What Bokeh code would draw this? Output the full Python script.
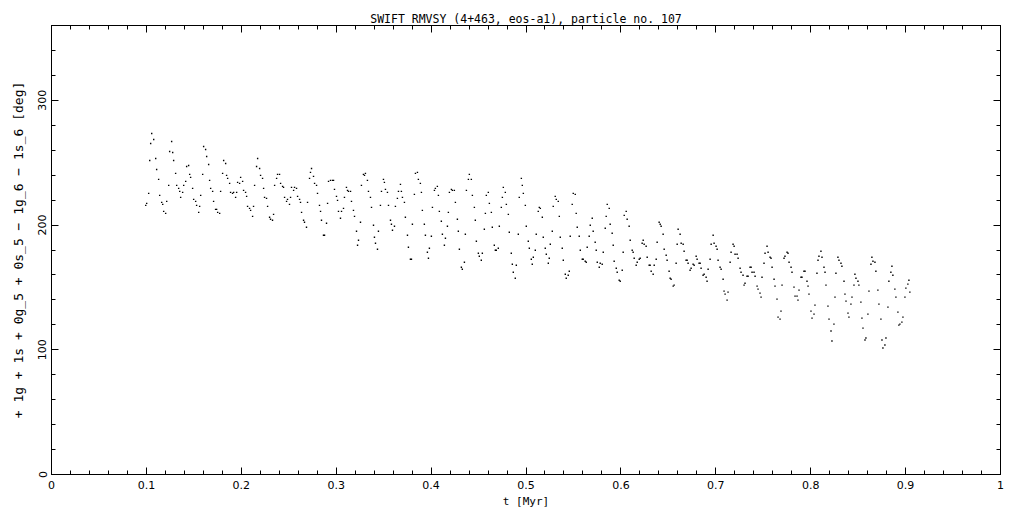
from bokeh.plotting import figure
from bokeh.models import LinearAxis, SingleIntervalTicker, NumeralTickFormatter, Range1d
from bokeh.embed import file_html
from bokeh.resources import INLINE

TITLE = "SWIFT_RMVSY (4+463, eos-a1), particle no. 107"
X_LABEL = "t [Myr]"
Y_LABEL = "+ 1g + 1s + 0g_5 + 0s_5 \u2212 1g_6 \u2212 1s_6 [deg]"
X_MAJOR = 0.1
Y_MAJOR = 100

t = [
0.0993,0.1003,0.1024,0.1035,0.1045,0.1056,0.1077,0.1098,0.1108,0.1129,0.1140,0.1161,0.1172,0.1182,0.1203,0.1214,
0.1235,0.1245,0.1266,0.1277,0.1287,0.1308,0.1319,0.1340,0.1351,0.1361,0.1382,0.1393,0.1414,0.1424,0.1445,0.1456,
0.1466,0.1487,0.1498,0.1519,0.1529,0.1551,0.1561,0.1572,0.1593,0.1603,0.1624,0.1635,0.1656,0.1666,
0.1677,0.1698,0.1708,0.1729,0.1740,0.1751,0.1772,0.1782,0.1803,0.1814,0.1835,0.1845,0.1856,0.1877,0.1887,0.1908,
0.1919,0.1940,0.1951,0.1961,0.1982,0.1993,0.2014,0.2024,0.2045,0.2056,0.2066,0.2087,0.2098,0.2119,0.2129,0.2140,
0.2161,0.2172,0.2193,0.2203,0.2224,0.2235,0.2245,0.2266,0.2277,0.2298,0.2308,0.2329,0.2340,0.2351,0.2372,0.2382,0.2403,
0.2414,0.2435,0.2445,0.2456,0.2477,0.2487,0.2508,0.2519,0.2529,0.2551,0.2561,0.2582,0.2593,0.2614,0.2624,0.2635,
0.2656,0.2666,0.2687,0.2698,0.2719,0.2729,0.2740,0.2761,0.2772,0.2793,0.2803,0.2824,0.2835,0.2845,0.2866,0.2877,
0.2898,0.2909,0.2919,0.2940,0.2961,0.2972,0.2982,0.3003,0.3014,0.3024,0.3045,0.3056,0.3077,0.3087,0.3108,0.3119,0.3129,
0.3151,0.3161,0.3182,0.3193,0.3214,0.3225,0.3235,0.3256,0.3266,0.3287,0.3298,0.3308,0.3329,0.3340,0.3361,0.3372,
0.3393,0.3403,0.3414,0.3435,0.3445,0.3466,0.3477,0.3498,0.3508,0.3519,0.3540,0.3551,0.3572,0.3582,0.3593,0.3614,
0.3624,0.3645,0.3656,0.3677,0.3687,0.3698,0.3719,0.3729,0.3751,0.3761,0.3782,0.3793,0.3803,0.3824,0.3835,0.3856,
0.3866,0.3887,0.3898,0.3908,0.3929,0.3940,0.3961,0.3972,0.3982,0.4003,0.4014,0.4035,0.4045,0.4066,0.4077,0.4087,
0.4108,0.4119,0.4140,0.4151,0.4172,0.4182,0.4193,0.4214,0.4224,0.4245,0.4256,0.4277,0.4287,0.4298,0.4319,0.4329,
0.4351,0.4361,0.4372,0.4393,0.4403,0.4424,0.4435,0.4456,0.4466,0.4477,0.4498,0.4508,0.4529,0.4540,0.4561,0.4572,
0.4582,0.4603,0.4614,
0.4635,0.4645,0.4666,0.4677,0.4687,0.4708,0.4719,0.4740,0.4751,0.4761,0.4782,0.4793,0.4814,0.4824,0.4845,0.4856,
0.4866,0.4887,0.4898,0.4919,0.4929,0.4951,0.4961,0.4972,0.4993,0.5003,0.5024,0.5035,0.5056,0.5066,0.5077,0.5098,
0.5108,0.5129,0.5140,0.5151,0.5172,0.5182,0.5203,0.5214,0.5235,0.5245,0.5256,0.5277,0.5287,0.5308,0.5319,0.5340,
0.5351,0.5361,0.5382,0.5393,0.5414,0.5424,0.5445,0.5456,0.5466,0.5487,0.5498,0.5519,0.5529,0.5540,0.5561,0.5572,
0.5593,0.5603,0.5624,0.5635,0.5645,0.5666,0.5677,0.5698,0.5708,0.5729,0.5740,0.5751,0.5772,0.5782,0.5803,0.5814,
0.5835,0.5845,0.5856,0.5877,0.5887,0.5908,0.5919,0.5929,0.5951,0.5961,0.5982,
0.5993,0.6014,0.6024,0.6035,0.6056,0.6066,0.6087,0.6098,0.6119,0.6129,0.6140,0.6161,0.6172,0.6193,0.6203,0.6224,
0.6235,0.6245,0.6266,0.6277,0.6298,0.6308,0.6319,0.6340,0.6351,0.6372,0.6382,0.6403,0.6414,0.6424,0.6445,0.6456,
0.6477,0.6487,0.6508,0.6519,0.6529,0.6551,0.6561,0.6582,0.6593,0.6603,0.6624,0.6635,0.6656,0.6666,0.6687,0.6698,
0.6708,0.6729,0.6740,0.6761,0.6772,0.6793,0.6803,0.6824,0.6835,0.6845,0.6866,0.6877,0.6898,0.6908,0.6919,0.6940,
0.6951,0.6972,0.6982,0.7003,0.7014,0.7024,0.7045,0.7056,0.7077,0.7087,0.7098,0.7119,0.7129,0.7151,0.7161,0.7182,
0.7193,0.7203,0.7224,0.7235,0.7256,0.7266,0.7287,0.7298,0.7308,0.7329,0.7340,
0.7361,0.7372,0.7382,0.7403,0.7414,0.7435,0.7445,0.7466,0.7477,0.7487,0.7508,0.7519,0.7540,0.7551,0.7572,0.7582,
0.7593,0.7614,0.7624,0.7645,0.7656,0.7677,0.7687,0.7698,0.7719,0.7729,0.7751,0.7761,0.7772,0.7793,0.7803,0.7824,
0.7835,0.7856,0.7866,0.7877,0.7898,0.7908,0.7929,0.7940,0.7961,0.7972,0.7982,0.8003,0.8014,0.8035,0.8045,0.8066,
0.8077,0.8087,0.8108,0.8119,0.8140,0.8151,0.8161,0.8182,0.8193,0.8214,0.8224,0.8245,0.8256,0.8266,0.8287,0.8298,
0.8319,0.8329,0.8351,0.8361,0.8372,0.8393,0.8403,0.8424,0.8435,0.8456,0.8466,0.8477,0.8498,0.8508,0.8529,0.8540,
0.8551,0.8572,0.8582,0.8603,0.8614,0.8635,0.8645,0.8656,0.8677,0.8687,0.8708,0.8719,0.8740,0.8751,0.8761,0.8782,
0.8793,0.8814,0.8824,0.8845,0.8856,0.8866,0.8887,0.8898,0.8919,0.8929,0.8940,0.8961,0.8972,0.8993,0.9003,0.9024,
0.9035,0.9045,
]

angle = [
215.8,217.4,225.4,251.8,265.4,273.4,268.6,253.4,244.6,236.6,223.8,218.2,216.6,211.0,209.4,219.0,
231.8,259.0,267.0,258.2,251.8,241.4,231.8,229.4,227.0,222.2,226.2,231.8,235.0,247.0,247.8,240.6,
238.2,229.4,220.6,219.0,215.8,210.2,215.0,223.8,240.6,263.0,260.6,255.0,248.6,235.8,
229.4,227.0,219.0,212.6,212.6,210.2,209.4,227.0,241.4,251.8,249.4,239.8,237.4,233.4,226.2,225.4,
226.2,222.2,226.2,234.2,233.4,238.2,235.0,227.8,226.2,223.0,215.0,213.4,211.8,207.0,215.0,231.8,
247.0,253.4,245.4,239.8,237.4,229.4,222.2,221.4,215.0,206.2,204.6,203.8,208.6,231.8,237.4,240.6,240.6,
233.4,231.0,230.2,222.2,219.0,220.6,216.6,222.2,230.2,227.8,230.2,229.4,223.0,220.6,218.2,210.2,
203.8,202.2,198.2,218.2,237.4,242.2,245.4,239.0,233.4,231.8,225.4,215.8,211.0,203.8,191.8,191.8,
201.4,217.4,235.0,235.8,235.8,235.8,228.6,223.0,219.8,211.0,205.4,211.0,213.4,222.2,230.2,227.8,227.0,
227.0,219.0,211.8,207.0,195.0,183.8,187.8,202.2,231.8,240.6,239.8,241.4,235.8,227.0,222.2,214.2,
199.8,190.2,185.4,180.6,195.0,215.8,227.0,236.6,234.2,228.6,226.2,215.8,203.8,200.6,195.8,199.0,
215.0,221.4,227.0,232.6,227.0,222.2,218.2,206.2,191.8,182.2,172.6,172.6,200.6,224.6,241.4,242.2,
236.6,233.4,226.2,211.8,200.6,191.8,178.2,173.4,181.4,191.0,214.2,227.8,229.4,231.0,223.8,211.0,
203.0,192.6,183.8,189.4,199.0,210.2,226.2,228.6,227.8,227.8,218.2,204.6,195.0,180.6,166.2,164.6,
170.2,192.6,227.8,236.6,240.6,236.6,223.8,214.2,203.8,187.0,177.4,175.0,171.8,177.4,196.6,209.4,
223.8,226.2,217.4,
210.2,198.2,183.8,179.8,179.8,181.4,199.0,214.2,222.2,230.2,226.2,216.6,208.6,194.2,177.4,168.6,
162.2,157.4,167.8,192.6,222.2,237.4,231.8,225.4,215.8,199.0,187.0,181.4,172.6,168.6,174.2,179.8,
192.6,211.0,214.2,213.4,206.2,190.2,181.4,176.6,169.4,173.4,184.6,195.0,215.0,223.0,220.6,219.0,
207.0,190.2,181.4,171.8,160.6,157.4,159.8,163.0,191.0,216.6,225.4,224.6,209.4,198.2,191.0,179.8,
172.6,172.6,171.0,170.2,182.2,191.0,199.8,205.4,195.0,186.2,179.8,170.2,166.2,169.4,168.6,178.2,
197.4,207.0,216.6,213.4,200.6,193.4,183.8,171.0,165.4,162.2,155.8,
155.0,163.8,178.2,207.8,211.0,204.6,199.0,187.8,179.8,178.2,173.4,167.8,170.2,172.6,173.4,185.4,
187.8,184.6,183.0,174.2,167.8,167.8,163.0,160.6,167.8,172.6,186.2,202.2,200.6,199.0,192.6,180.6,
175.8,171.8,163.0,157.4,156.6,151.0,151.8,169.4,184.6,196.6,192.6,185.4,184.6,179.0,171.8,171.8,
169.4,163.8,165.4,168.6,167.8,175.0,172.6,169.4,169.4,165.4,159.8,160.6,158.2,155.0,164.6,172.6,
184.6,191.8,185.4,183.0,180.6,171.8,166.2,164.6,156.6,147.0,144.6,139.8,146.2,170.2,178.2,184.6,
183.0,176.6,176.6,173.4,165.4,162.2,159.8,151.8,153.4,159.0,159.0,
166.2,166.2,162.2,162.2,159.0,151.0,148.6,145.4,142.2,158.2,169.4,177.4,183.0,178.2,174.2,173.4,
166.2,156.6,151.0,140.6,126.2,124.6,131.0,151.8,173.4,175.0,178.2,177.4,170.2,166.2,162.2,150.2,
143.0,143.0,139.8,147.8,158.2,158.2,163.0,163.0,155.0,151.0,144.6,131.0,125.4,128.6,135.8,161.4,
171.8,175.0,179.0,174.2,166.2,162.2,151.8,135.0,124.6,115.0,107.0,120.6,142.2,161.4,174.2,171.8,
169.4,167.0,155.0,144.6,139.0,129.4,126.2,136.6,142.2,151.8,160.6,157.4,155.0,151.8,138.2,125.4,
117.4,107.8,109.4,128.6,147.0,168.6,174.2,171.0,170.2,163.0,147.8,136.6,124.6,107.8,101.4,103.8,
109.4,134.2,155.0,162.2,167.0,159.8,148.6,142.2,130.2,119.8,120.6,122.2,126.2,142.2,149.4,152.6,
155.8,146.2,
]

TICK_FONT = "DejaVu Sans"
LABEL_FONT = "DejaVu Sans Mono"

p = figure(width=1018, height=510, output_backend="svg", toolbar_location=None,
           x_range=Range1d(0, 1), y_range=Range1d(0, 360), title=TITLE,
           min_border_left=51, min_border_right=18, min_border_top=25, min_border_bottom=36,
           background_fill_color="white", border_fill_color="white")
p.title.text_font = LABEL_FONT
p.title.text_font_size = "11.5px"
p.title.text_font_style = "normal"
p.title.text_color = "black"
p.title.align = "center"
p.title.standoff = 0
p.title.offset = 0
p.grid.visible = False
p.outline_line_color = "black"

def style_axis(ax, labels=True):
    ax.axis_line_color = "black"
    ax.major_tick_in = 7
    ax.major_tick_out = 0
    ax.minor_tick_in = 4
    ax.minor_tick_out = 0
    ax.major_tick_line_color = "black"
    ax.minor_tick_line_color = "black"
    ax.major_label_text_font = TICK_FONT
    ax.major_label_text_font_size = "11px" if labels else "0px"
    ax.major_label_text_color = "black" if labels else None
    ax.major_label_standoff = 6 if labels else 0
    ax.axis_label_text_font = LABEL_FONT
    ax.axis_label_text_font_size = "11px"
    ax.axis_label_text_color = "black"
    ax.axis_label_text_font_style = "normal"
    ax.axis_label_standoff = 3

xb = p.xaxis[0]
xb.ticker = SingleIntervalTicker(interval=X_MAJOR, num_minor_ticks=5)
xb.formatter = NumeralTickFormatter(format="0.[0]")
xb.axis_label = X_LABEL
style_axis(xb)

yl = p.yaxis[0]
yl.ticker = SingleIntervalTicker(interval=Y_MAJOR, num_minor_ticks=5)
yl.axis_label = Y_LABEL
yl.major_label_orientation = "vertical"
style_axis(yl)
yl.major_label_standoff = 5
yl.axis_label_text_font_size = "13px"
yl.axis_label_standoff = 10

xt = LinearAxis(ticker=SingleIntervalTicker(interval=X_MAJOR, num_minor_ticks=5))
style_axis(xt, labels=False)
p.add_layout(xt, "above")
yr = LinearAxis(ticker=SingleIntervalTicker(interval=Y_MAJOR, num_minor_ticks=5))
style_axis(yr, labels=False)
p.add_layout(yr, "right")

p.scatter(t, angle, marker="square", size=1.4, fill_color="black", line_color=None)

open("out.html", "w").write(file_html(p, INLINE))
